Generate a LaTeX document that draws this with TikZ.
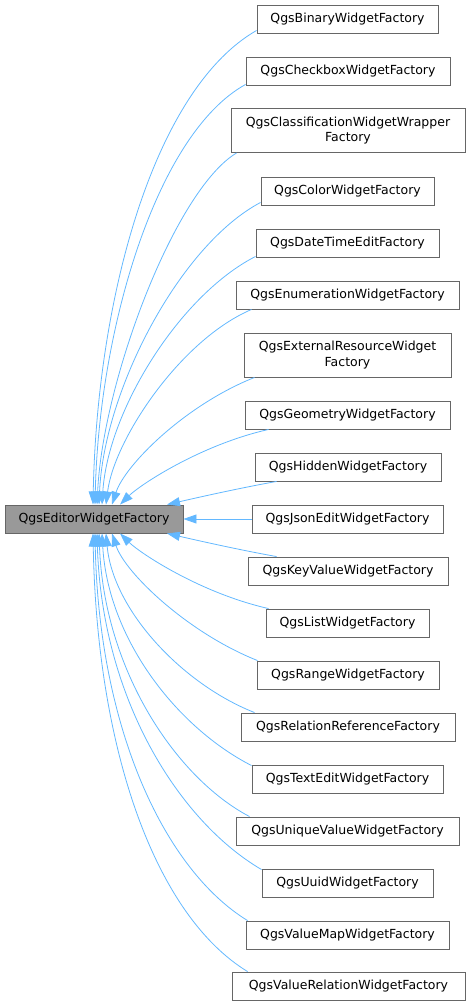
\documentclass[tikz,border=0pt]{standalone}
\usepackage{fontspec}
\setmainfont{DejaVu Sans}
\usetikzlibrary{arrows.meta,calc}
\definecolor{edgeblue}{HTML}{63B8FF}
\definecolor{boxgray}{HTML}{666666}
\definecolor{mainfill}{HTML}{999999}
\begin{document}
\begin{tikzpicture}[x=1pt,y=-1pt,
  every node/.style={font=\fontsize{12.5}{15.5}\selectfont, inner sep=0pt, align=center},
  cls/.style={draw=boxgray, line width=0.9pt, fill=white, minimum height=28pt},
  cls2/.style={draw=boxgray, line width=0.9pt, fill=white, minimum height=44pt},
  basecls/.style={draw=boxgray, line width=0.9pt, fill=mainfill, minimum height=28pt},
  inh/.style={draw=edgeblue, line width=0.8pt, -{Triangle[length=13pt,width=9pt]}}]
\useasboundingbox (0,0) rectangle (470,1006);

\node[basecls, minimum width=178pt] (main) at (94,519) {QgsEditorWidgetFactory};

\node[cls, minimum width=181pt] (n1) at (347.5,19) {QgsBinaryWidgetFactory};
\node[cls, minimum width=204pt] (n2) at (348,71) {QgsCheckboxWidgetFactory};
\node[cls2, minimum width=234pt] (n3) at (348,130.5) {QgsClassificationWidgetWrapper\\Factory};
\node[cls, minimum width=173pt] (n4) at (347.5,191) {QgsColorWidgetFactory};
\node[cls, minimum width=183pt] (n5) at (347.5,243) {QgsDateTimeEditFactory};
\node[cls, minimum width=223pt] (n6) at (347.5,295) {QgsEnumerationWidgetFactory};
\node[cls2, minimum width=207pt] (n7) at (347.5,355) {QgsExternalResourceWidget\\Factory};
\node[cls, minimum width=205pt] (n8) at (347.5,415) {QgsGeometryWidgetFactory};
\node[cls, minimum width=186pt] (n9) at (348,467) {QgsHiddenWidgetFactory};
\node[cls, minimum width=191pt] (n10) at (347.5,519) {QgsJsonEditWidgetFactory};
\node[cls, minimum width=200pt] (n11) at (348,571) {QgsKeyValueWidgetFactory};
\node[cls, minimum width=163pt] (n12) at (347.5,623) {QgsListWidgetFactory};
\node[cls, minimum width=182pt] (n13) at (348,675) {QgsRangeWidgetFactory};
\node[cls, minimum width=214pt] (n14) at (348,727) {QgsRelationReferenceFactory};
\node[cls, minimum width=191pt] (n15) at (347.5,779) {QgsTextEditWidgetFactory};
\node[cls, minimum width=223pt] (n16) at (347.5,831) {QgsUniqueValueWidgetFactory};
\node[cls, minimum width=171pt] (n17) at (347.5,883) {QgsUuidWidgetFactory};
\node[cls, minimum width=203pt] (n18) at (347.5,935) {QgsValueMapWidgetFactory};
\node[cls, minimum width=233pt] (n19) at (348.5,986) {QgsValueRelationWidgetFactory};

% edges above
\draw[inh] ($(n1.south west)+(0,-3)$) .. controls (153,90) and (97,300) .. ($(main.north)+(-1,0)$);
\draw[inh] ($(n2.south west)+(0,-1)$) .. controls (156,134) and (99,330) .. ($(main.north)+(1,0)$);
\draw[inh] ($(n3.south west)+(6,0)$) .. controls (175,190) and (103,380) .. ($(main.north)+(3,0)$);
\draw[inh] ($(n4.south west)+(0,-3)$) .. controls (180,245) and (104,390) .. ($(main.north)+(5,0)$);
\draw[inh] ($(n5.south west)+(0,-1)$) .. controls (180,295) and (108,410) .. ($(main.north)+(8,0)$);
\draw[inh] ($(n6.south west)+(16,0)$) .. controls (180,340) and (114,440) .. ($(main.north)+(12,0)$);
\draw[inh] ($(n7.south west)+(11,0)$) .. controls (185,405) and (125,465) .. ($(main.north)+(18,0)$);
\draw[inh] ($(n8.south west)+(24,0)$) .. controls (200,445) and (140,485) .. ($(main.north)+(26,0)$);
\draw[inh] ($(n9.south west)+(22,0)$) .. controls (240,488) and (200,497) .. ($(main.north)+(73,0)$);
% straight edge
\draw[inh] (n10.west) -- (main.east);
% edges below
\draw[inh] ($(n11.north west)+(29,0)$) .. controls (240,550) and (200,541) .. ($(main.south)+(73,0)$);
\draw[inh] ($(n12.north west)+(3,0)$) .. controls (200,593) and (140,553) .. ($(main.south)+(26,0)$);
\draw[inh] ($(n13.north west)+(1,0)$) .. controls (188,633) and (125,573) .. ($(main.south)+(18,0)$);
\draw[inh] ($(n14.north west)+(14,0)$) .. controls (182,684) and (113,610) .. ($(main.south)+(12,0)$);
\draw[inh] ($(n15.north west)+(0,1)$) .. controls (178,728) and (108,640) .. ($(main.south)+(8,0)$);
\draw[inh] ($(n16.north west)+(14,0)$) .. controls (176,778) and (104,670) .. ($(main.south)+(5,0)$);
\draw[inh] ($(n17.north west)+(0,1)$) .. controls (180,822) and (102,700) .. ($(main.south)+(3,0)$);
\draw[inh] ($(n18.north west)+(2,0)$) .. controls (165,870) and (99,730) .. ($(main.south)+(1,0)$);
\draw[inh] ($(n19.north west)+(16,0)$) .. controls (155,915) and (97,750) .. ($(main.south)+(-1,0)$);
\end{tikzpicture}
\end{document}
